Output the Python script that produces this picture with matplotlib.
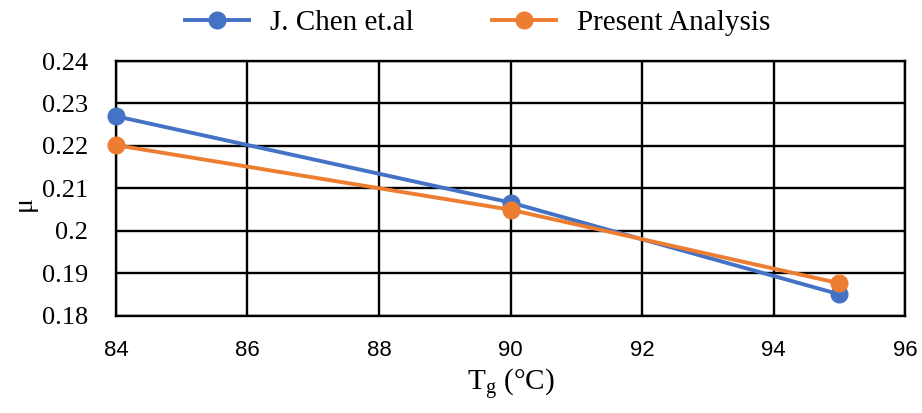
import matplotlib
matplotlib.use("Agg")
import matplotlib.pyplot as plt

temps = [84, 90, 95]
chen_mu = [0.2270, 0.2067, 0.1851]
present_mu = [0.2202, 0.2050, 0.1877]
x_ticks = [84, 86, 88, 90, 92, 94, 96]
y_ticks = [0.18, 0.19, 0.20, 0.21, 0.22, 0.23, 0.24]
y_tick_labels = ["0.18", "0.19", "0.2", "0.21", "0.22", "0.23", "0.24"]

serif = ["Liberation Serif", "DejaVu Serif"]
sans = ["Liberation Sans", "DejaVu Sans"]

plt.rcParams["mathtext.fontset"] = "custom"
plt.rcParams["mathtext.rm"] = "Liberation Serif"

fig = plt.figure(figsize=(9.22, 4.13), dpi=100)
ax = fig.add_axes([0.1258, 0.2349, 0.8558, 0.6174])

blue = "#4472C4"
orange = "#ED7D31"
ax.plot(temps, chen_mu, color=blue, lw=2.8, marker="o", ms=12, label="J. Chen et.al",
        zorder=3, clip_on=False)
ax.plot(temps, present_mu, color=orange, lw=2.8, marker="o", ms=12, label="Present Analysis",
        zorder=4, clip_on=False)

ax.set_xlim(84, 96)
ax.set_ylim(0.18, 0.24)
ax.set_xticks(x_ticks)
ax.set_yticks(y_ticks)
ax.set_yticklabels(y_tick_labels)
ax.grid(True, color="black", lw=1.7)
ax.set_axisbelow(True)
for s in ax.spines.values():
    s.set_color("black")
    s.set_linewidth(1.7)
ax.tick_params(length=0)
ax.tick_params(axis="y", pad=20)
ax.tick_params(axis="x", pad=17)
for t in ax.get_yticklabels():
    t.set_fontfamily(serif)
    t.set_fontsize(19)
for t in ax.get_xticklabels():
    t.set_fontfamily(sans)
    t.set_fontsize(16)

ax.set_xlabel(r"T$_\mathregular{g}$ (°C)", fontfamily=serif, fontsize=21, labelpad=4)
ax.set_ylabel("μ", fontfamily=serif, fontsize=20)
ax.yaxis.set_label_coords(-0.1, 0.44)

fig.legend(loc="center", bbox_to_anchor=(0.518, 0.944), ncol=2, frameon=False,
           prop={"family": serif, "size": 21}, handlelength=2.2, handletextpad=0.7,
           columnspacing=2.7)

fig.savefig("out.png", dpi=100)
